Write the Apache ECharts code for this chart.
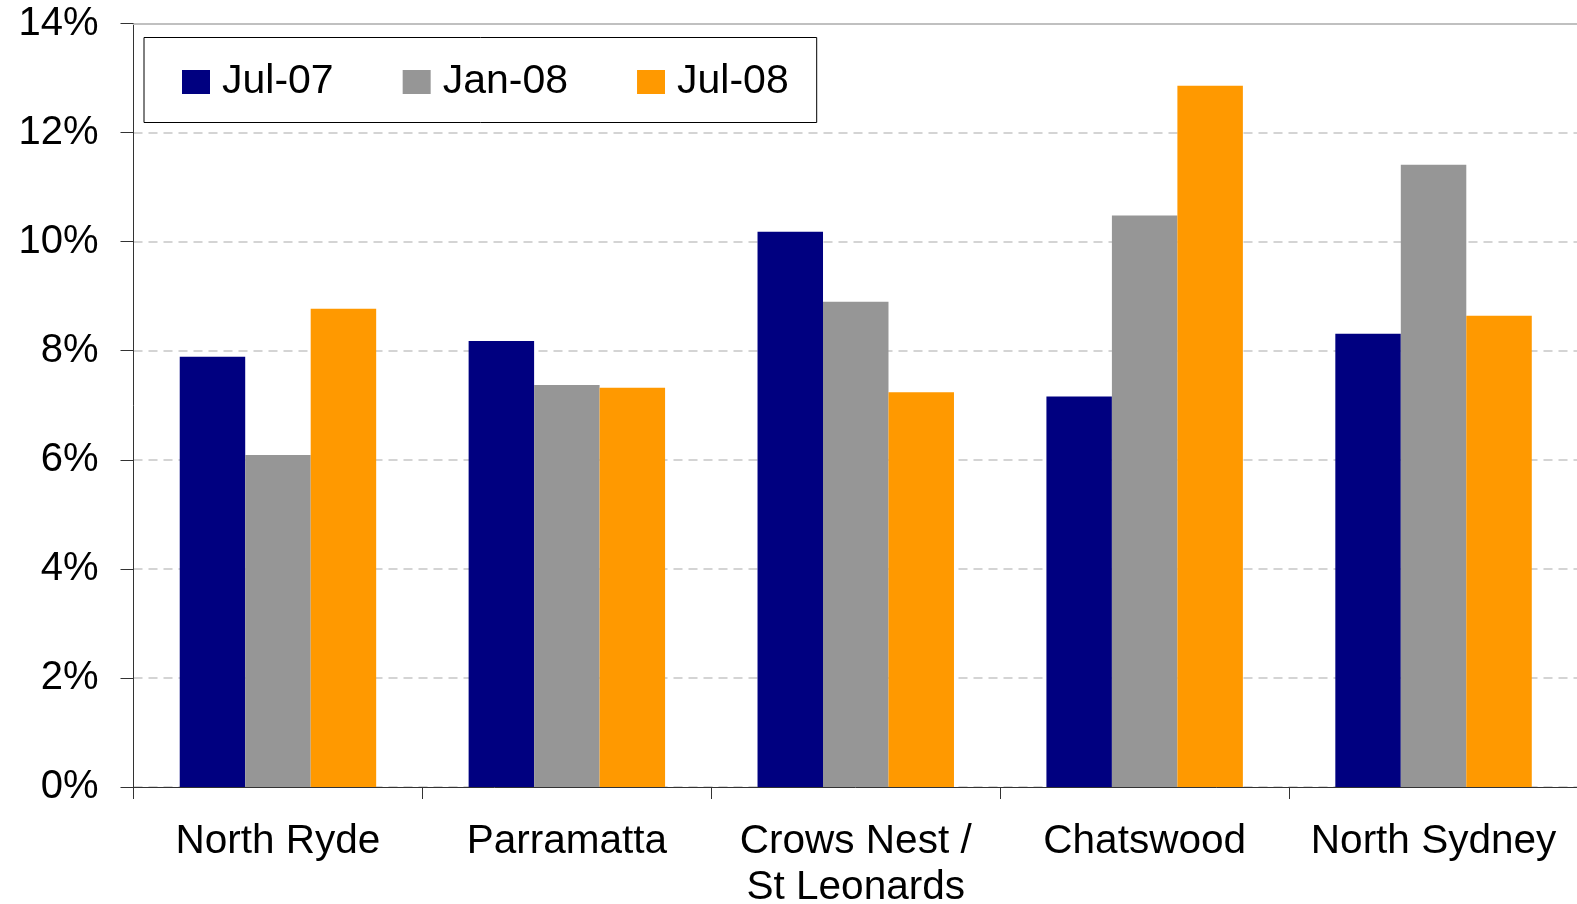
<!DOCTYPE html>
<html>
<head>
<meta charset="utf-8">
<script src="https://cdn.jsdelivr.net/npm/echarts@6/dist/echarts.min.js"></script>
<style>
html,body{margin:0;padding:0;background:#fff;}
#chart{width:1577px;height:904px;}
</style>
</head>
<body>
<div id="chart"></div>
<script>
const categories = ['North Ryde', 'Parramatta', 'Crows Nest /\nSt Leonards', 'Chatswood', 'North Sydney'];
const seriesNames = ['Jul-07', 'Jan-08', 'Jul-08'];
const jul07 = [7.89, 8.18, 10.18, 7.16, 8.31];
const jan08 = [6.09, 7.37, 8.90, 10.48, 11.41];
const jul08 = [8.77, 7.32, 7.24, 12.86, 8.64];
const yTicks = { min: 0, max: 14, interval: 2 };

const colors = ['#000080', '#969696', '#FF9900'];
const font = 'Liberation Sans, Arial, sans-serif';

const chart = echarts.init(document.getElementById('chart'));
chart.setOption({
  animation: false,
  color: colors,
  grid: { left: 133.5, right: -1, top: 23.5, bottom: 117, containLabel: false, outerBoundsMode: 'none' },
  legend: {
    data: seriesNames,
    left: 144, top: 37.5,
    orient: 'horizontal',
    icon: 'rect',
    itemWidth: 28, itemHeight: 24,
    itemGap: 69,
    padding: [24, 28, 20, 38],
    borderColor: '#000', borderWidth: 1,
    backgroundColor: '#fff',
    textStyle: { fontFamily: font, fontSize: 41, color: '#000', padding: [0, 0, 0, 7] }
  },
  xAxis: [{
    type: 'category',
    data: categories,
    axisLine: { lineStyle: { color: '#333', width: 1 } },
    axisTick: { show: true, length: 12, lineStyle: { color: '#333' } },
    axisLabel: { fontFamily: font, fontSize: 40.5, color: '#000', margin: 32, lineHeight: 46, interval: 0 },
    splitLine: { show: false }
  }, {
    type: 'category',
    position: 'top',
    data: categories,
    axisLine: { show: true, lineStyle: { color: '#c0c0c0', width: 2 } },
    axisTick: { show: false },
    axisLabel: { show: false },
    splitLine: { show: false }
  }],
  yAxis: {
    type: 'value',
    min: yTicks.min, max: yTicks.max, interval: yTicks.interval,
    axisLine: { show: true, lineStyle: { color: '#333', width: 1 } },
    axisTick: { show: true, length: 13, lineStyle: { color: '#333' } },
    axisLabel: { fontFamily: font, fontSize: 40, color: '#000', margin: 35, formatter: '{value}%' },
    splitLine: { show: true, lineStyle: { color: '#d4d4d4', width: 2, type: [9, 6] } }
  },
  series: [
    { name: seriesNames[0], type: 'bar', data: jul07, barGap: '0%', barCategoryGap: '32%', xAxisIndex: 0 },
    { name: seriesNames[1], type: 'bar', data: jan08, barGap: '0%', barCategoryGap: '32%', xAxisIndex: 0 },
    { name: seriesNames[2], type: 'bar', data: jul08, barGap: '0%', barCategoryGap: '32%', xAxisIndex: 0 }
  ]
});
</script>
</body>
</html>
